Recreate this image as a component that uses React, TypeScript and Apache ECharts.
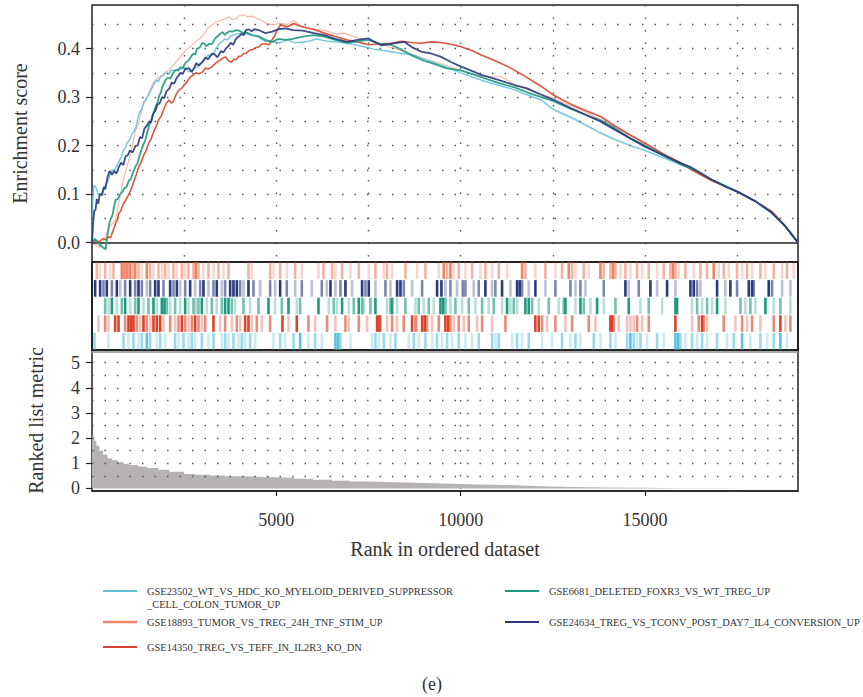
import React, { useEffect, useRef } from "react";
import * as echarts from "echarts";

const FONT = "Liberation Serif, DejaVu Serif, serif";
const RANK_MAX = 19150;

// ---------- series names & colours ----------
const NAME_23502 = "GSE23502_WT_VS_HDC_KO_MYELOID_DERIVED_SUPPRESSOR_CELL_COLON_TUMOR_UP";
const NAME_6681 = "GSE6681_DELETED_FOXR3_VS_WT_TREG_UP";
const NAME_18893 = "GSE18893_TUMOR_VS_TREG_24H_TNF_STIM_UP";
const NAME_24634 = "GSE24634_TREG_VS_TCONV_POST_DAY7_IL4_CONVERSION_UP";
const NAME_14350 = "GSE14350_TREG_VS_TEFF_IN_IL2R3_KO_DN";

const COLORS: Record<string, string> = {
  [NAME_23502]: "#5cc2dc",
  [NAME_6681]: "#1f9a7e",
  [NAME_18893]: "#ee8468",
  [NAME_24634]: "#2a3a7c",
  [NAME_14350]: "#d9432a",
};

// ---------- running enrichment scores [rank, ES] ----------
const es24634 = [[0,0],[30,0.04],[60,0.065],[95,0.067],[130,0.09],[170,0.08],[210,0.1],[277,0.098],[320,0.115],[360,0.11],[420,0.135],[480,0.148],[543,0.14],[600,0.148],[660,0.142],[724,0.155],[790,0.165],[850,0.16],[910,0.178],[970,0.18],[1030,0.19],[1100,0.186],[1182,0.2],[1240,0.2],[1300,0.218],[1360,0.215],[1420,0.235],[1480,0.24],[1550,0.25],[1600,0.248],[1660,0.265],[1725,0.273],[1780,0.285],[1840,0.288],[1900,0.3],[1960,0.298],[2020,0.312],[2100,0.318],[2160,0.33],[2230,0.328],[2300,0.34],[2400,0.35],[2460,0.348],[2530,0.358],[2630,0.36],[2700,0.352],[2750,0.357],[2830,0.37],[2900,0.365],[2990,0.372],[3080,0.382],[3150,0.378],[3260,0.39],[3330,0.388],[3400,0.382],[3500,0.395],[3560,0.392],[3630,0.4],[3700,0.405],[3760,0.412],[3830,0.408],[3900,0.42],[3980,0.425],[4050,0.43],[4120,0.428],[4170,0.438],[4250,0.44],[4330,0.436],[4400,0.44],[4530,0.438],[4700,0.432],[4890,0.435],[5050,0.44],[5260,0.442],[5450,0.438],[5710,0.437],[6020,0.432],[6300,0.428],[6600,0.42],[6930,0.414],[7200,0.418],[7500,0.421],[7840,0.407],[8100,0.41],[8470,0.414],[8700,0.402],[8920,0.394],[9200,0.39],[9470,0.383],[9750,0.372],[10010,0.363],[10300,0.354],[10560,0.346],[11000,0.336],[11460,0.325],[11800,0.318],[12190,0.305],[12500,0.295],[13000,0.277],[13500,0.26],[13790,0.25],[14200,0.232],[14600,0.215],[15000,0.198],[15500,0.18],[16000,0.163],[16260,0.155],[16800,0.13],[17200,0.115],[17530,0.104],[18000,0.085],[18430,0.062],[18800,0.034],[19150,0]];
const es6681 = [[0,0],[80,0.008],[150,0.0],[230,-0.006],[300,-0.01],[370,-0.014],[400,0.005],[430,0.02],[470,0.04],[500,0.047],[560,0.058],[600,0.075],[640,0.088],[700,0.09],[760,0.1],[820,0.104],[880,0.112],[940,0.115],[1000,0.128],[1050,0.13],[1100,0.142],[1180,0.157],[1240,0.165],[1300,0.182],[1380,0.2],[1450,0.212],[1500,0.228],[1550,0.242],[1600,0.25],[1640,0.262],[1690,0.272],[1725,0.28],[1780,0.29],[1820,0.302],[1870,0.31],[1900,0.32],[1960,0.33],[2000,0.336],[2060,0.34],[2130,0.338],[2200,0.35],[2270,0.356],[2340,0.355],[2400,0.362],[2460,0.36],[2530,0.37],[2630,0.377],[2700,0.385],[2750,0.39],[2800,0.388],[2850,0.4],[2920,0.402],[2990,0.412],[3050,0.41],[3100,0.405],[3180,0.41],[3260,0.41],[3330,0.42],[3400,0.425],[3470,0.43],[3540,0.434],[3600,0.428],[3650,0.432],[3730,0.436],[3810,0.435],[3900,0.438],[4000,0.437],[4100,0.432],[4170,0.434],[4350,0.428],[4530,0.425],[4700,0.418],[4890,0.414],[5050,0.42],[5260,0.418],[5450,0.42],[5710,0.425],[6000,0.428],[6300,0.425],[6600,0.418],[6930,0.412],[7200,0.415],[7500,0.418],[7800,0.41],[8100,0.408],[8400,0.398],[8700,0.385],[9000,0.375],[9300,0.368],[9600,0.36],[10000,0.355],[10300,0.348],[10600,0.34],[11000,0.33],[11460,0.32],[11800,0.31],[12190,0.3],[12500,0.292],[13000,0.275],[13500,0.26],[13800,0.252],[14200,0.235],[14600,0.215],[15000,0.2],[15500,0.18],[16000,0.16],[16400,0.148],[16800,0.13],[17200,0.116],[17530,0.104],[18000,0.085],[18430,0.062],[18800,0.034],[19150,0]];
const es23502 = [[0,0],[20,0.09],[50,0.118],[100,0.115],[160,0.1],[250,0.1],[300,0.11],[350,0.115],[400,0.122],[450,0.13],[500,0.142],[550,0.15],[600,0.148],[650,0.155],[700,0.162],[750,0.17],[800,0.178],[850,0.19],[900,0.195],[950,0.205],[1020,0.212],[1090,0.225],[1150,0.23],[1200,0.24],[1250,0.26],[1300,0.27],[1350,0.275],[1400,0.29],[1450,0.292],[1500,0.3],[1570,0.31],[1635,0.32],[1700,0.33],[1750,0.335],[1800,0.332],[1850,0.34],[1920,0.345],[2000,0.35],[2080,0.348],[2150,0.355],[2270,0.356],[2400,0.358],[2550,0.36],[2620,0.352],[2700,0.355],[2780,0.36],[2850,0.362],[2920,0.37],[3000,0.372],[3090,0.38],[3170,0.387],[3240,0.385],[3300,0.39],[3380,0.402],[3450,0.41],[3530,0.415],[3600,0.42],[3680,0.418],[3750,0.425],[3900,0.43],[4100,0.432],[4300,0.428],[4500,0.425],[4700,0.415],[4900,0.414],[5100,0.412],[5310,0.418],[5500,0.412],[5800,0.414],[6100,0.42],[6400,0.415],[6700,0.413],[7000,0.41],[7380,0.404],[7700,0.398],[8000,0.395],[8400,0.39],[8740,0.387],[9000,0.378],[9300,0.37],[9660,0.36],[10000,0.35],[10300,0.342],[10560,0.335],[11000,0.325],[11460,0.315],[11800,0.305],[12190,0.294],[12500,0.275],[13000,0.258],[13400,0.242],[13790,0.226],[14200,0.212],[14600,0.2],[15000,0.19],[15500,0.175],[16000,0.16],[16400,0.148],[16800,0.13],[17200,0.116],[17530,0.104],[18000,0.085],[18430,0.062],[18800,0.034],[19150,0]];
const es14350 = [[0,0],[100,0.004],[200,0.002],[300,0.008],[380,0.006],[450,0.012],[500,0.01],[550,0.02],[600,0.03],[640,0.04],[690,0.048],[724,0.06],[780,0.065],[850,0.08],[920,0.088],[1000,0.1],[1060,0.11],[1130,0.125],[1200,0.14],[1270,0.157],[1330,0.165],[1400,0.18],[1470,0.19],[1540,0.205],[1610,0.215],[1680,0.23],[1740,0.24],[1810,0.253],[1880,0.262],[1950,0.275],[2020,0.288],[2090,0.294],[2150,0.288],[2200,0.29],[2280,0.305],[2360,0.315],[2430,0.318],[2500,0.325],[2580,0.332],[2650,0.34],[2730,0.345],[2810,0.35],[2900,0.348],[3000,0.352],[3080,0.36],[3150,0.358],[3260,0.363],[3350,0.37],[3450,0.375],[3540,0.38],[3630,0.383],[3700,0.375],[3780,0.372],[3850,0.378],[3900,0.377],[3980,0.384],[4050,0.385],[4120,0.39],[4170,0.39],[4260,0.396],[4350,0.398],[4440,0.402],[4530,0.404],[4620,0.41],[4700,0.41],[4800,0.408],[4880,0.418],[4950,0.425],[5030,0.44],[5120,0.449],[5300,0.445],[5470,0.452],[5700,0.445],[6000,0.44],[6300,0.432],[6600,0.425],[6930,0.418],[7200,0.414],[7500,0.408],[7800,0.41],[8110,0.411],[8400,0.415],[8700,0.412],[8920,0.411],[9200,0.414],[9500,0.412],[9800,0.408],[10010,0.404],[10300,0.396],[10560,0.387],[10900,0.376],[11280,0.363],[11700,0.345],[12190,0.322],[12500,0.305],[13000,0.285],[13400,0.272],[13790,0.26],[14200,0.24],[14600,0.222],[15000,0.205],[15500,0.183],[16000,0.163],[16260,0.15],[16800,0.128],[17200,0.115],[17530,0.105],[18000,0.085],[18430,0.065],[18800,0.035],[19150,0]];
const es18893 = [[0,0],[100,-0.005],[200,-0.01],[300,0.0],[400,0.02],[500,0.035],[640,0.047],[700,0.07],[750,0.09],[800,0.11],[850,0.13],[920,0.15],[1000,0.17],[1050,0.185],[1100,0.2],[1180,0.232],[1240,0.24],[1300,0.26],[1380,0.28],[1450,0.294],[1520,0.305],[1600,0.32],[1660,0.33],[1725,0.335],[1800,0.34],[1900,0.345],[2000,0.352],[2090,0.356],[2200,0.365],[2300,0.375],[2420,0.385],[2540,0.397],[2640,0.402],[2750,0.41],[2870,0.418],[2990,0.425],[3080,0.435],[3170,0.445],[3260,0.448],[3350,0.455],[3450,0.457],[3550,0.46],[3640,0.462],[3720,0.466],[3800,0.46],[3900,0.462],[4000,0.468],[4100,0.47],[4220,0.466],[4350,0.467],[4480,0.462],[4600,0.458],[4740,0.452],[4890,0.449],[5100,0.452],[5300,0.45],[5470,0.458],[5700,0.445],[6000,0.44],[6300,0.438],[6600,0.43],[6830,0.432],[7100,0.425],[7400,0.418],[7700,0.413],[8000,0.405],[8300,0.398],[8600,0.39],[8900,0.382],[9200,0.375],[9500,0.368],[9800,0.36],[10200,0.35],[10600,0.342],[11100,0.342],[11500,0.325],[12000,0.31],[12500,0.298],[13000,0.282],[13500,0.265],[14000,0.245],[14500,0.225],[15000,0.205],[15500,0.183],[16000,0.163],[16500,0.14],[17000,0.122],[17530,0.105],[18000,0.085],[18430,0.065],[18800,0.035],[19150,0]];

// ---------- hit positions [rank, intensity level 1..3] ----------
const hits18893 = [[131,2],[221,1],[357,2],[493,1],[583,2],[809,3],[881,3],[954,3],[1026,3],[1098,2],[1171,3],[1261,2],[1351,1],[1487,3],[1577,2],[1668,1],[1803,2],[1894,1],[1984,2],[2075,1],[2210,2],[2301,1],[2436,2],[2527,1],[2617,2],[2753,2],[2816,3],[2888,2],[3024,1],[3159,2],[3295,1],[3431,2],[3566,1],[3702,2],[4244,2],[4335,1],[4832,2],[4922,1],[5103,2],[5284,1],[5510,2],[5691,1],[6143,1],[6278,2],[6513,2],[6603,1],[6784,2],[7010,1],[7236,2],[7507,1],[7688,2],[7914,1],[8004,2],[8140,1],[8502,2],[8818,1],[9044,2],[9406,1],[9541,3],[9632,2],[9722,3],[9812,1],[9948,2],[10129,1],[10310,2],[10536,1],[10671,2],[10852,1],[11033,2],[11259,1],[11666,3],[11756,2],[12027,1],[12298,2],[12570,1],[12750,2],[12932,3],[13022,2],[13113,1],[13339,2],[13474,1],[13791,3],[13881,2],[14062,2],[14134,3],[14198,2],[14333,1],[14469,2],[14604,1],[14785,2],[14921,1],[15102,2],[15328,1],[15508,2],[15689,2],[15762,3],[15825,2],[15915,1],[16096,2],[16322,1],[16503,2],[16684,2],[16864,3],[17000,1],[17136,2],[17271,1],[17497,2],[17633,1],[17768,2],[17904,1],[18130,2],[18266,1],[18492,2],[18718,1],[18853,2],[19034,1]];
const hits24634 = [[86,3],[221,3],[312,2],[402,3],[538,2],[673,3],[764,1],[899,2],[1035,3],[1171,2],[1261,3],[1351,2],[1487,1],[1577,2],[1713,3],[1803,3],[1939,2],[2120,3],[2210,2],[2301,3],[2391,1],[2527,2],[2662,3],[2798,1],[2934,2],[3024,3],[3159,1],[3295,2],[3385,3],[3521,1],[3611,2],[3747,3],[3837,3],[3928,3],[4018,2],[4109,1],[4244,3],[4380,2],[4561,1],[4832,2],[4967,1],[5103,3],[5284,2],[5510,1],[5691,2],[5962,1],[6233,2],[6368,1],[6468,3],[6603,1],[6739,2],[6874,3],[7055,1],[7326,3],[7417,2],[7507,3],[7688,1],[7959,2],[8095,1],[8276,3],[8366,3],[8456,2],[8682,1],[8954,2],[9360,3],[9478,3],[9586,1],[9722,2],[9903,1],[10057,2],[10129,2],[10355,1],[10490,2],[10671,3],[10852,1],[10942,2],[11123,3],[11349,1],[11530,3],[11602,3],[11666,2],[11846,1],[12027,3],[12298,1],[12570,2],[12977,2],[13113,1],[13248,2],[13384,1],[13881,2],[14469,3],[14559,1],[14830,2],[15147,3],[15328,1],[15599,3],[15825,1],[16232,3],[16322,3],[16413,2],[16503,1],[16955,3],[17181,1],[17316,3],[17497,2],[17814,3],[17904,3],[17949,2],[18356,3],[18446,2],[18718,1],[18944,1]];
const hits6681 = [[357,2],[447,1],[538,3],[673,1],[809,2],[899,3],[1035,1],[1171,2],[1261,3],[1397,1],[1532,2],[1668,3],[1758,1],[1894,3],[1966,3],[2029,2],[2120,1],[2255,2],[2391,1],[2527,3],[2617,1],[2753,2],[2816,1],[2888,2],[2979,3],[3114,1],[3250,2],[3385,1],[3521,2],[3611,3],[3702,3],[3792,2],[3883,1],[4109,2],[4289,1],[4515,2],[4787,3],[4967,1],[5148,2],[5329,3],[5555,1],[5645,2],[6143,3],[6422,1],[6558,2],[6648,1],[6784,3],[6965,1],[7100,2],[7236,3],[7326,2],[7372,1],[7552,2],[7688,3],[8004,1],[8095,2],[8140,3],[8276,1],[8502,2],[8773,1],[8863,2],[8999,1],[9134,2],[9270,1],[9451,3],[9523,3],[9586,2],[9722,1],[9858,2],[10038,1],[10219,2],[10400,1],[10581,2],[10762,1],[10897,2],[11123,1],[11259,3],[11349,1],[11440,2],[11530,1],[11756,3],[11846,3],[11937,2],[12117,1],[12389,2],[12660,1],[12796,2],[12842,3],[13113,1],[13248,3],[13339,2],[13520,1],[13700,3],[13881,1],[14198,2],[14559,3],[14876,1],[15102,2],[15463,1],[15825,3],[15870,3],[16277,1],[16413,2],[16548,1],[16684,2],[16819,1],[16955,3],[17181,1],[17588,2],[17723,1],[17859,2],[17994,1],[18266,3],[18492,1],[18672,2],[18944,1]];
const hits14350 = [[176,1],[357,2],[447,1],[628,3],[719,3],[899,2],[990,3],[1062,3],[1125,3],[1216,2],[1306,1],[1397,3],[1487,2],[1577,1],[1668,3],[1758,3],[1849,3],[1939,1],[2120,2],[2255,1],[2346,2],[2436,3],[2527,2],[2617,1],[2707,2],[2798,3],[2888,2],[2979,1],[3069,2],[3295,3],[3476,1],[3611,2],[3792,1],[3928,2],[4018,1],[4154,3],[4244,3],[4335,1],[4470,2],[4606,1],[4832,2],[5166,3],[5329,1],[5555,3],[5871,2],[6052,1],[6377,2],[6603,1],[6874,2],[6965,1],[7236,2],[7462,1],[7733,3],[7796,3],[7824,2],[8004,1],[8140,2],[8276,1],[8456,2],[8682,3],[8773,2],[8818,1],[8954,3],[9026,3],[9089,2],[9225,1],[9406,2],[9586,3],[9659,3],[9722,2],[9812,1],[9948,2],[10084,1],[10219,2],[10445,1],[10581,2],[10852,1],[11214,2],[12027,3],[12117,3],[12208,2],[12343,1],[12570,2],[12842,1],[13022,2],[13474,2],[13655,1],[14062,3],[14107,3],[14152,2],[14288,1],[14514,1],[14604,1],[14695,1],[14785,2],[14921,1],[15102,2],[15825,3],[16277,1],[16458,2],[16548,3],[16593,2],[16684,1],[17136,2],[17452,1],[17633,2],[17768,1],[17904,2],[18130,1],[18492,2],[18672,3],[18808,1],[18944,2]];
const hits23502 = [[68,2],[447,1],[854,2],[990,1],[1125,2],[1261,1],[1351,2],[1487,3],[1577,2],[1758,1],[1849,2],[1984,1],[2255,2],[2346,1],[2482,2],[2617,1],[2707,2],[2798,1],[2979,2],[3159,1],[3295,2],[3521,1],[3611,2],[3702,1],[3837,2],[3973,1],[4063,2],[4154,1],[4289,2],[4425,1],[4922,1],[5103,2],[5239,1],[5465,2],[5645,3],[5871,1],[6052,2],[6233,1],[6603,3],[6675,3],[6739,2],[7010,1],[7597,1],[7688,2],[7778,1],[7914,2],[8095,1],[8230,2],[8592,1],[8728,2],[8863,1],[9044,2],[9225,1],[9360,2],[9496,1],[9632,2],[9767,1],[9948,2],[10129,1],[10310,1],[10490,2],[10852,2],[10942,1],[11033,2],[11394,1],[11530,2],[11666,1],[11846,2],[12208,1],[12479,1],[12750,2],[12977,1],[13113,2],[13248,1],[13610,2],[13791,1],[14062,2],[14198,1],[14514,2],[14604,3],[14695,2],[14785,1],[14876,2],[15057,1],[15328,2],[15508,1],[15825,3],[15897,3],[15960,2],[16096,1],[16277,2],[16413,1],[16548,2],[16684,1],[16955,2],[17226,1],[17407,2],[17633,3],[17859,1],[18130,2],[18311,1],[18492,2],[18672,3],[18853,1]];

// ---------- ranked list metric [rank, metric] ----------
const rankedMetric = [[0,2.1],[60,1.9],[120,1.7],[200,1.5],[300,1.35],[420,1.2],[550,1.12],[700,1.05],[850,0.98],[1000,0.93],[1250,0.87],[1500,0.81],[1800,0.74],[2100,0.66],[2500,0.58],[2800,0.55],[3200,0.52],[3600,0.49],[4000,0.47],[4500,0.45],[5000,0.43],[5500,0.39],[6000,0.35],[6500,0.31],[7000,0.28],[7500,0.26],[8000,0.24],[8500,0.22],[9000,0.2],[9500,0.18],[10000,0.16],[10500,0.145],[11000,0.125],[11500,0.1],[12000,0.08],[12500,0.06],[13000,0.045],[13500,0.035],[14000,0.025],[15000,0.014],[16000,0.008],[17000,0.004],[18000,0.002],[19150,0]];

// ---------- axis tick values ----------
const esTicks = [0, 0.1, 0.2, 0.3, 0.4];
const esGridLines = [0.05, 0.1, 0.15, 0.2, 0.25, 0.3, 0.35, 0.4, 0.45];
const metricTicks = [0, 1, 2, 3, 4, 5];
const metricGridLines = [0.5, 1, 1.5, 2, 2.5, 3, 3.5, 4, 4.5, 5];
const rankTicks = [5000, 10000, 15000];

// order of barcode rows (top to bottom)
const barcodeRows: [string, number[][]][] = [
  [NAME_18893, hits18893],
  [NAME_24634, hits24634],
  [NAME_6681, hits6681],
  [NAME_14350, hits14350],
  [NAME_23502, hits23502],
];

// line draw order
const lineSeries: [string, number[][], number, number][] = [
  [NAME_18893, es18893, 1.1, 0.6],
  [NAME_23502, es23502, 1.5, 0.85],
  [NAME_14350, es14350, 1.6, 0.9],
  [NAME_6681, es6681, 1.8, 0.9],
  [NAME_24634, es24634, 1.8, 0.9],
];

const legendLeft = [NAME_23502, NAME_18893, NAME_14350];
const legendRight = [NAME_6681, NAME_24634];

const DOT = [1.5, 11];

export default function App() {
  const ref = useRef<HTMLDivElement>(null);
  useEffect(() => {
    if (!ref.current) return;
    const chart = echarts.init(ref.current, null, { renderer: "svg" });
    const levelOpacity = [0, 0.32, 0.62, 1];

    const series: any[] = [];
    lineSeries.forEach(([name, data, w, op], i) => {
      const s: any = {
        type: "line",
        name,
        xAxisIndex: 0,
        yAxisIndex: 0,
        data,
        showSymbol: false,
        symbol: "none",
        lineStyle: { color: COLORS[name], width: w, opacity: op },
        z: 3 + i,
      };
      if (i === 0) {
        s.markLine = {
          silent: true,
          symbol: ["none", "none"],
          label: { show: false },
          lineStyle: { color: "#555", width: 1.4, type: DOT },
          data: [
            ...esGridLines.map((v) => ({ yAxis: v })),
            { yAxis: 0, lineStyle: { color: "#222", width: 1.5, type: "solid" } },
          ],
        };
      }
      series.push(s);
    });

    barcodeRows.forEach(([name, hits], row) => {
      series.push({
        type: "custom",
        name: name + "_hits",
        xAxisIndex: 1,
        yAxisIndex: 1,
        data: hits.map(([r, l]) => [r, row, l]),
        renderItem: (params: any, api: any) => {
          const p = api.coord([api.value(0), api.value(1)]);
          const h = api.size([0, 1])[1];
          return {
            type: "rect",
            shape: { x: p[0] - 1.3, y: p[1] + 0.5, width: 2.6, height: h - 1 },
            style: { fill: COLORS[name], opacity: levelOpacity[api.value(2)] },
          };
        },
        silent: true,
      });
    });

    series.push({
      type: "line",
      name: "Ranked list metric",
      xAxisIndex: 2,
      yAxisIndex: 2,
      data: rankedMetric,
      step: "end",
      symbol: "none",
      showSymbol: false,
      lineStyle: { width: 0 },
      areaStyle: { color: "#b7b3b3", opacity: 1 },
      markLine: {
        silent: true,
        symbol: ["none", "none"],
        label: { show: false },
        lineStyle: { color: "#555", width: 1.4, type: DOT },
        data: metricGridLines.map((v) => ({ yAxis: v })),
      },
    });

    const graphic: any[] = [];
    // thin grey band under the barcode frame
    graphic.push({
      type: "line",
      shape: { x1: 92, y1: 352, x2: 798, y2: 352 },
      style: { stroke: "#a8a8a8", lineWidth: 2 },
      z: 10,
    });
    const addLegend = (names: string[], lx: number, ys: number[]) => {
      names.forEach((n, i) => {
        graphic.push({
          type: "line",
          shape: { x1: lx, y1: ys[i], x2: lx + 34, y2: ys[i] },
          style: { stroke: COLORS[n], lineWidth: n === NAME_18893 ? 2.6 : 2 },
        });
        const label =
          n === NAME_23502
            ? "GSE23502_WT_VS_HDC_KO_MYELOID_DERIVED_SUPPRESSOR\n_CELL_COLON_TUMOR_UP"
            : n;
        graphic.push({
          type: "text",
          x: lx + 44,
          y: ys[i] - 6.5,
          style: {
            text: label,
            fontFamily: FONT,
            fontSize: 10.4,
            fill: "#333",
            lineHeight: 13,
            verticalAlign: "top",
          },
        });
      });
    };
    addLegend(legendLeft, 103, [591, 622, 647]);
    addLegend(legendRight, 505, [591, 622]);
    graphic.push({
      type: "text",
      x: 432,
      y: 684,
      style: { text: "(e)", fontFamily: FONT, fontSize: 18, fill: "#333", align: "center", verticalAlign: "middle" },
    });

    const xCommon = {
      type: "value",
      min: 0,
      max: RANK_MAX,
      interval: 2500,
    };

    chart.setOption({
      animation: false,
      backgroundColor: "#fff",
      textStyle: { fontFamily: FONT },
      grid: [
        { left: 92, right: 65, top: 5, height: 257, show: true, borderColor: "#222", borderWidth: 1.5, backgroundColor: "transparent" },
        { left: 92, right: 65, top: 262, height: 88, show: true, borderColor: "#222", borderWidth: 2, backgroundColor: "transparent" },
        { left: 92, right: 65, top: 350, height: 141, show: true, borderColor: "#222", borderWidth: 1.5, backgroundColor: "transparent" },
      ],
      xAxis: [
        {
          ...xCommon,
          gridIndex: 0,
          axisLine: { show: false },
          axisTick: { show: false },
          axisLabel: { show: false },
          splitLine: { show: true, showMinLine: false, showMaxLine: false, lineStyle: { color: "#555", width: 1.4, type: DOT } },
        },
        {
          ...xCommon,
          gridIndex: 1,
          show: false,
          splitLine: { show: false },
        },
        {
          ...xCommon,
          gridIndex: 2,
          axisLine: { show: true, onZero: false, lineStyle: { color: "#222", width: 1.5 } },
          axisTick: { show: true, customValues: rankTicks, length: 5, lineStyle: { color: "#222", width: 1.2 } },
          axisLabel: {
            show: true,
            customValues: rankTicks,
            margin: 20,
            fontSize: 18,
            color: "#333",
            fontFamily: FONT,
            formatter: (v: number) => String(v),
          },
          splitLine: { show: true, showMinLine: false, showMaxLine: false, lineStyle: { color: "#555", width: 1.4, type: DOT } },
          name: "Rank in ordered dataset",
          nameLocation: "middle",
          nameGap: 48,
          nameTextStyle: { fontSize: 20, color: "#333", fontFamily: FONT },
        },
      ],
      yAxis: [
        {
          type: "value",
          gridIndex: 0,
          min: -0.04,
          max: 0.49,
          axisLine: { show: false },
          axisTick: { show: true, customValues: esTicks, length: 6, lineStyle: { color: "#222", width: 1.2 } },
          axisLabel: {
            show: true,
            customValues: esTicks,
            margin: 12,
            fontSize: 18,
            color: "#333",
            fontFamily: FONT,
            formatter: (v: number) => v.toFixed(1),
          },
          splitLine: { show: false },
          name: "Enrichment score",
          nameLocation: "middle",
          nameGap: 62,
          nameTextStyle: { fontSize: 20, color: "#333", fontFamily: FONT },
        },
        {
          type: "value",
          gridIndex: 1,
          min: 0,
          max: 5,
          inverse: true,
          show: false,
          splitLine: { show: false },
        },
        {
          type: "value",
          gridIndex: 2,
          min: -0.1,
          max: 5.5,
          axisLine: { show: false },
          axisTick: { show: true, customValues: metricTicks, length: 6, lineStyle: { color: "#222", width: 1.2 } },
          axisLabel: {
            show: true,
            customValues: metricTicks,
            margin: 12,
            fontSize: 18,
            color: "#333",
            fontFamily: FONT,
            formatter: (v: number) => String(v),
          },
          splitLine: { show: false },
          name: "Ranked list metric",
          nameLocation: "middle",
          nameGap: 46,
          nameTextStyle: { fontSize: 20, color: "#333", fontFamily: FONT },
        },
      ],
      series,
      graphic,
    });
    return () => chart.dispose();
  }, []);
  return (
    <div
      ref={ref}
      style={{ position: "fixed", left: 0, top: 0, width: 863, height: 697, background: "#fff" }}
    />
  );
}
